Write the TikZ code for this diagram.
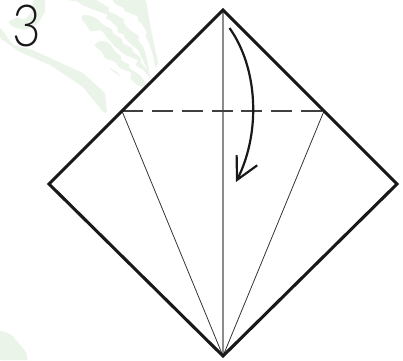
\documentclass[tikz,border=0pt]{standalone}
\usepackage{fontspec}
\setmainfont{Lato Light}
\usepackage{xcolor}
\usetikzlibrary{positioning,arrows.meta}
\definecolor{fern}{HTML}{EBF4E9}

\begin{document}
\begin{tikzpicture}[
  x=0.02cm,y=-0.02cm,
  edgeln/.style={line width=1.75pt,black!90,line join=miter},
  creaseln/.style={line width=0.45pt,black!80},
  centerln/.style={line width=0.8pt,black!45},
  foldln/.style={line width=0.75pt,black!75,dash pattern=on 11.9pt off 5.1pt},
  turnln/.style={line width=1.25pt,black!90,-{Straight Barb[length=4.4mm,width=4.6mm,line width=1.25pt]}},
  leaf/.style={fill=fern,draw=none,rounded corners=0.8pt}
]
\useasboundingbox (0,0) rectangle (403,360);
% ---------------- fern behind the sheet ----------------
\fill[leaf] (33,0) -- (45,0) -- (45,12) -- (37,25) -- (25,30) -- (13,27) -- (8,22) -- (17,17) -- (25,20) -- (33,10) -- cycle;
\fill[leaf] (0,27) -- (13,45) -- (33,50) -- (50,58) -- (83,73) -- (105,93) -- (107,113) -- (103,112) -- (83,87) -- (50,65) -- (20,52) -- (0,38) -- cycle;
\fill[leaf] (0,330) -- (12,335) -- (26,352) -- (28,360) -- (0,360) -- cycle;
\begin{scope}[shift={(60,0)},scale=0.3333]
\fill[leaf] (155,0) -- (170,15) -- (195,25) -- (190,32) -- (215,42) -- (235,50) -- (232,60) -- (245,70) -- (262,100) -- (255,105) -- (268,130) -- (280,170) -- (285,205) -- (295,190) -- (275,100) -- (258,0) -- cycle;
\fill[leaf] (20,0) -- (110,0) -- (150,25) -- (142,32) -- (170,45) -- (195,60) -- (190,68) -- (210,90) -- (240,110) -- (232,118) -- (250,140) -- (262,180) -- (270,225) -- (255,195) -- (235,150) -- (215,135) -- (190,110) -- (195,105) -- (170,95) -- (175,85) -- (150,60) -- (135,55) -- (145,45) -- (90,25) -- (65,15) -- (55,5) -- cycle;
\fill[leaf] (65,45) -- (85,45) -- (110,55) -- (130,75) -- (160,90) -- (155,97) -- (190,120) -- (185,128) -- (220,145) -- (215,152) -- (245,175) -- (240,183) -- (265,215) -- (275,240) -- (250,210) -- (225,195) -- (235,180) -- (195,165) -- (165,140) -- (135,105) -- (125,90) -- (90,95) -- (80,75) -- (65,60) -- cycle;
\fill[leaf] (105,130) -- (125,122) -- (150,130) -- (165,155) -- (185,170) -- (180,178) -- (210,195) -- (205,203) -- (240,225) -- (265,260) -- (235,258) -- (210,235) -- (215,218) -- (180,205) -- (165,185) -- (135,175) -- (125,155) -- (105,140) -- cycle;
\fill[leaf] (145,200) -- (170,215) -- (185,232) -- (160,215) -- cycle;
\end{scope}
% ---------------- sheet ----------------
\coordinate (T) at (223,10);
\coordinate (L) at (49,184);
\coordinate (R) at (397,184);
\coordinate (B) at (223,356);
\coordinate (FL) at (122,111);
\coordinate (FR) at (324,111);
\fill[white] (T) -- (R) -- (B) -- (L) -- cycle;
\draw[centerln] (T) -- (B);
\draw[creaseln] (FL) -- (B);
\draw[creaseln] (FR) -- (B);
\draw[foldln] (FL) -- (FR);
\draw[edgeln] (T) -- (R) -- (B) -- (L) -- cycle;
% ---------------- turn-over arrow ----------------
\coordinate (TS) at (229.5,28);
\coordinate (TE) at (236,182);
\draw[turnln] (TS) .. controls (258,68) and (261,132) .. (TE);
% ---------------- step number ----------------
\node[font=\fontsize{33pt}{33pt}\selectfont,inner sep=0pt,black!90,xscale=0.85] (N) at (27,25.5) {3};
\end{tikzpicture}
\end{document}
